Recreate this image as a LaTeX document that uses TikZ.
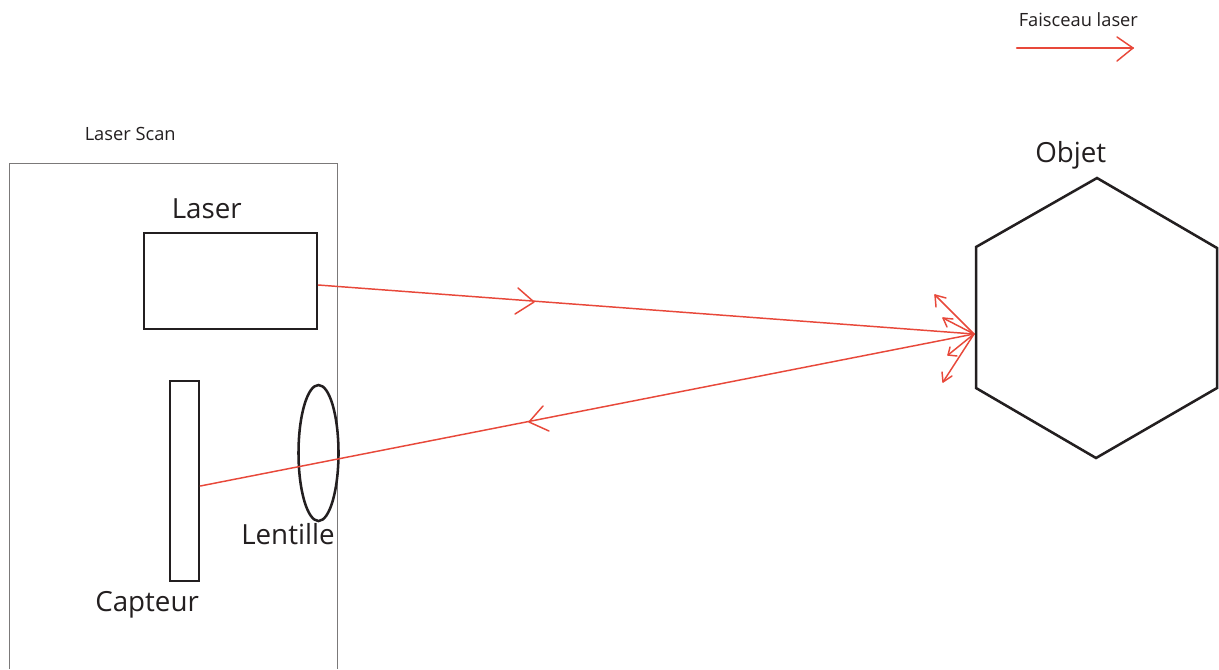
\documentclass[tikz,border=0pt]{standalone}
\usepackage{fontspec}
\setmainfont{Open Sans}
\usetikzlibrary{shapes.geometric,calc}
\definecolor{beam}{RGB}{232,72,58}
\definecolor{ink}{RGB}{35,31,32}
\tikzset{
  px/.style={x=0.75pt,y=-0.75pt},
  blockbox/.style={draw=ink,line width=1.9pt,inner sep=0pt},
  ray/.style={draw=beam,line width=1.1pt,line cap=round,line join=round},
  big/.style={text=ink,inner sep=0pt,font=\fontsize{20.8}{24}\selectfont},
  small/.style={text=ink,inner sep=0pt,font=\fontsize{13.7}{16}\selectfont},
}
\begin{document}
\begin{tikzpicture}[px]
\useasboundingbox (0,0) rectangle (1219,669);
\fill[white] (0,0) rectangle (1219,669);
% housing
\draw[draw=ink!60,line width=0.5pt] (9.5,669) -- (9.5,163.5) -- (337,163.5) -- (337,669);
% shapes
\node[blockbox,minimum width=129.75pt,minimum height=72pt] (laser) at (230.5,281) {};
\node[blockbox,minimum width=21.75pt,minimum height=150pt] (capteur) at (184.5,481) {};
\node[blockbox,ellipse,minimum width=30pt,minimum height=102pt] (lentille) at (318.5,453) {};
\draw[ink,line width=1.9pt,line join=miter] (1097,178) -- (1217,248) -- (1217,388) -- (1096,458) -- (976,388) -- (976,247) -- cycle;
\coordinate (impact) at (974,334);
\coordinate (laserout) at ($(laser.east)+(0,4)$);
\coordinate (capteurin) at (capteur.east |- 0,486);
% rays
\draw[ray] (laserout) -- (impact);
\draw[ray] (impact) -- (capteurin);
\draw[ray] (518,288) -- (534,302) -- (515,314);
\draw[ray] (543,406) -- (529,422) -- (549,431);
% scattered
\draw[ray] (impact) -- (935,295);
\draw[ray] (936,307) -- (935,295) -- (946,298);
\draw[ray] (impact) -- (943,318);
\draw[ray] (947,327) -- (943,318) -- (953,319);
\draw[ray] (impact) -- (948,355);
\draw[ray] (950,347) -- (948,355) -- (957,356);
\draw[ray] (impact) -- (943,382);
\draw[ray] (942,372) -- (943,382) -- (952,376);
% legend
\coordinate (legA) at (1017,48);
\coordinate (legB) at (1133,48);
\draw[ray,line width=1.7pt] (legA) -- (legB);
\draw[ray] (1117,37) -- (legB) -- (1117,61);
% labels
\node[small,anchor=base west] (t1) at (1018.5,26) {Faisceau laser};
\node[small,anchor=base west] (t2) at (84.5,140) {Laser Scan};
\node[big,anchor=base west] (t3) at (1035,162) {Objet};
\node[big,anchor=base west] (t4) at (171.5,218) {Laser};
\node[big,anchor=base west] (t5) at (241,544) {Lentille};
\node[big,anchor=base west] (t6) at (95,611) {Capteur};
\end{tikzpicture}
\end{document}
